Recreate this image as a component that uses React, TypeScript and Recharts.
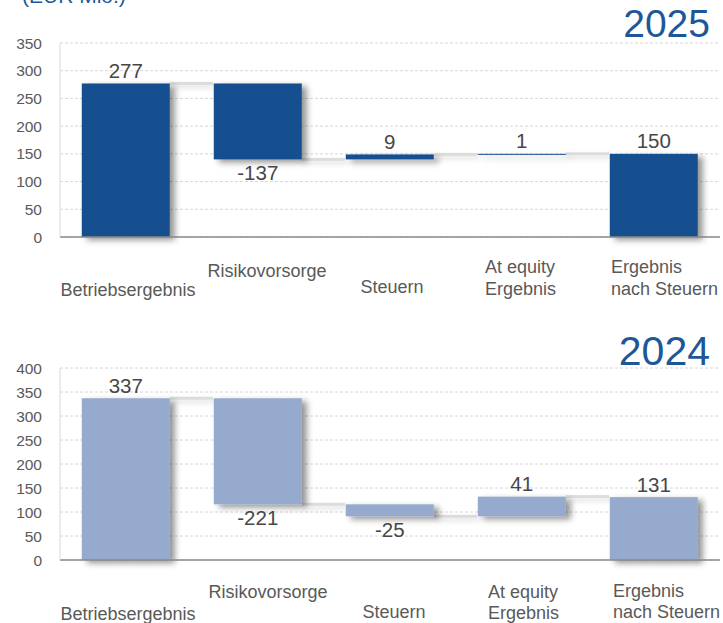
import React from 'react';
import { ComposedChart, Bar, XAxis, YAxis, CartesianGrid, LabelList } from 'recharts';

const categories = ['Betriebsergebnis', 'Risikovorsorge', 'Steuern', 'At equity Ergebnis', 'Ergebnis nach Steuern'];
const categoryLines = [['Betriebsergebnis'], ['Risikovorsorge'], ['Steuern'], ['At equity', 'Ergebnis'], ['Ergebnis', 'nach Steuern']];
const kinds = ['total', 'delta', 'delta', 'delta', 'total'];
const values2025 = [277, -137, 9, 1, 150];
const values2024 = [337, -221, -25, 41, 131];
const ticks2025 = [0, 50, 100, 150, 200, 250, 300, 350];
const ticks2024 = [0, 50, 100, 150, 200, 250, 300, 350, 400];
const unitLabel = '(EUR Mio.)';

const FONT = '"Liberation Sans", Arial, sans-serif';
const DARK = '#16508f';
const LIGHT = '#95aacd';
const TITLE = '#1d5799';
const CAT_GAP = 0.165;

type TickCfg = { dx: number; dy: number[]; anchor: 'start' | 'middle' | 'end' };
const tickLayout2025: TickCfg[] = [
  { dx: 2, dy: [59], anchor: 'middle' },
  { dx: 9, dy: [40], anchor: 'middle' },
  { dx: 2, dy: [56], anchor: 'middle' },
  { dx: -37, dy: [36, 58], anchor: 'start' },
  { dx: -43, dy: [36, 58], anchor: 'start' },
];
const tickLayout2024: TickCfg[] = [
  { dx: 2, dy: [60], anchor: 'middle' },
  { dx: 10, dy: [38], anchor: 'middle' },
  { dx: 4, dy: [58], anchor: 'middle' },
  { dx: -34, dy: [38, 59], anchor: 'start' },
  { dx: -41, dy: [37, 58], anchor: 'start' },
];

function buildData(values: number[]) {
  let run = 0;
  return values.map((v, i) => {
    let low = 0;
    let high = 0;
    if (kinds[i] === 'total') {
      low = 0;
      high = v;
      run = v;
    } else {
      const start = run;
      run = run + v;
      low = Math.min(start, run);
      high = Math.max(start, run);
    }
    return { name: categories[i], value: v, kind: kinds[i], range: [low, high], last: i === values.length - 1 };
  });
}

const data2025 = buildData(values2025);
const data2024 = buildData(values2024);

function makeShape(color: string) {
  return (props: any) => {
    const { x, y, width, height, payload } = props;
    const top = Math.min(y, y + height);
    const h = Math.abs(height);
    const levelY = payload.kind === 'delta' && payload.value < 0 ? top + h : top;
    const band = width / (1 - 2 * CAT_GAP);
    const gap = band - width;
    return (
      <g>
        {!payload.last && (
          <rect x={x + width} y={levelY - 1.5} width={gap} height={3} fill="#dcdcdc" filter="url(#connShadow)" />
        )}
        <rect x={x} y={top} width={width} height={Math.max(h, 1)} fill={color} filter="url(#barShadow)" />
      </g>
    );
  };
}

const renderLabel = (props: any) => {
  const vb = props.viewBox || props;
  const { x, y, width, height } = vb;
  const value = props.value;
  const top = Math.min(y, y + height);
  const bottom = Math.max(y, y + height);
  const cx = x + width / 2;
  const ty = value < 0 ? bottom + 20.5 : top - 5.5;
  return (
    <text x={cx} y={ty} textAnchor="middle" fontSize={20.5} fill="#474747" fontFamily={FONT}>
      {value}
    </text>
  );
};

function makeTick(layout: TickCfg[]) {
  return (props: any) => {
    const { x, y, payload } = props;
    const idx = payload && payload.index != null ? payload.index : props.index;
    const cfg = layout[idx];
    const lines = categoryLines[idx];
    return (
      <g>
        {lines.map((ln, k) => (
          <text
            key={k}
            x={x + cfg.dx}
            y={y + cfg.dy[k]}
            textAnchor={cfg.anchor}
            fontSize={18}
            fill="#595959"
            fontFamily={FONT}
          >
            {ln}
          </text>
        ))}
      </g>
    );
  };
}

function Waterfall(props: {
  data: any[];
  ticks: number[];
  max: number;
  color: string;
  height: number;
  top: number;
  xAxisHeight: number;
  layout: TickCfg[];
}) {
  const { data, ticks, max, color, height, top, xAxisHeight, layout } = props;
  return (
    <ComposedChart
      width={723}
      height={height}
      data={data}
      margin={{ top, right: 3, bottom: 0, left: 0 }}
      barCategoryGap={`${CAT_GAP * 100}%`}
    >
      <CartesianGrid vertical={false} stroke="#d6d6d6" strokeDasharray="3 2" />
      <XAxis
        dataKey="name"
        interval={0}
        height={xAxisHeight}
        tickLine={false}
        tickSize={0}
        tickMargin={0}
        axisLine={{ stroke: '#8a8a8a', strokeWidth: 1.5 }}
        tick={makeTick(layout)}
      />
      <YAxis
        width={60}
        domain={[0, max]}
        ticks={ticks}
        interval={0}
        tickLine={false}
        tickSize={0}
        tickMargin={18}
        axisLine={{ stroke: '#d9d9d9' }}
        tick={{ fill: '#595959', fontSize: 15.5, fontFamily: FONT }}
      />
      <Bar dataKey="range" isAnimationActive={false} shape={makeShape(color)}>
        <LabelList dataKey="value" content={renderLabel} />
      </Bar>
    </ComposedChart>
  );
}

export default function App() {
  return (
    <div
      style={{
        position: 'absolute',
        left: 0,
        top: 0,
        width: 723,
        height: 623,
        background: '#ffffff',
        overflow: 'hidden',
        fontFamily: FONT,
      }}
    >
      <svg width={0} height={0} style={{ position: 'absolute' }}>
        <defs>
          <filter id="barShadow" filterUnits="userSpaceOnUse" x={-50} y={-50} width={900} height={800}>
            <feDropShadow dx={5} dy={3} stdDeviation={3} floodColor="#000" floodOpacity={0.42} />
          </filter>
          <filter id="connShadow" filterUnits="userSpaceOnUse" x={-50} y={-50} width={900} height={800}>
            <feDropShadow dx={2} dy={3} stdDeviation={2.5} floodColor="#000" floodOpacity={0.14} />
          </filter>
        </defs>
      </svg>
      <div style={{ position: 'absolute', left: 0, top: 0 }}>
        <Waterfall
          data={data2025}
          ticks={ticks2025}
          max={350}
          color={DARK}
          height={310}
          top={43}
          xAxisHeight={73}
          layout={tickLayout2025}
        />
      </div>
      <div style={{ position: 'absolute', left: 0, top: 310 }}>
        <Waterfall
          data={data2024}
          ticks={ticks2024}
          max={400}
          color={LIGHT}
          height={313}
          top={58}
          xAxisHeight={63}
          layout={tickLayout2024}
        />
      </div>
      <svg
        width={723}
        height={623}
        style={{ position: 'absolute', left: 0, top: 0, pointerEvents: 'none' }}
      >
        <text x={22} y={3} fontSize={21} fill={TITLE} fontFamily={FONT}>
          {unitLabel}
        </text>
        <text x={710} y={37} textAnchor="end" fontSize={39} fill={TITLE} fontFamily={FONT}>
          2025
        </text>
        <text x={710} y={365} textAnchor="end" fontSize={41} fill={TITLE} fontFamily={FONT}>
          2024
        </text>
      </svg>
    </div>
  );
}
